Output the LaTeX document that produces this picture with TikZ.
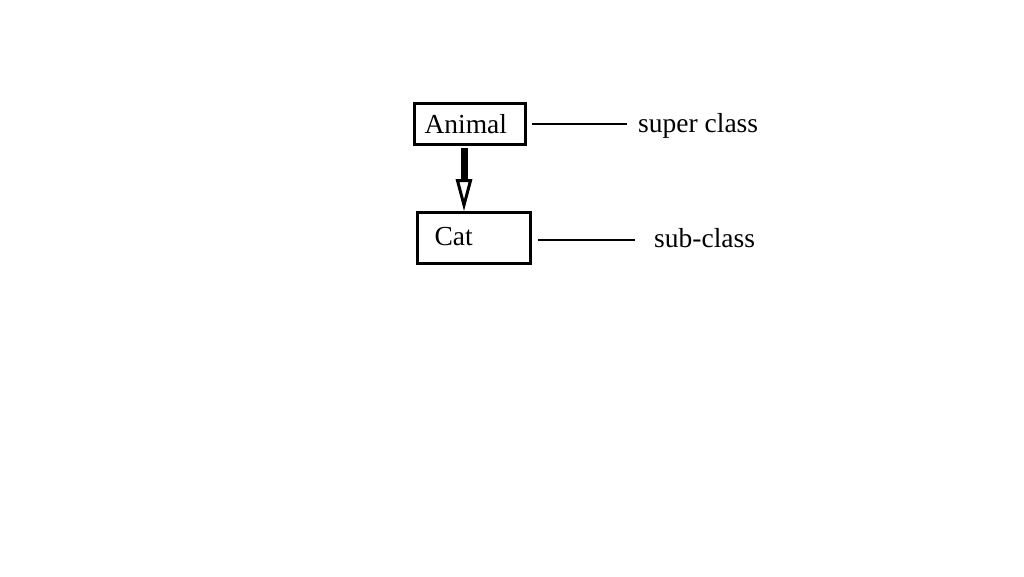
\documentclass[tikz,border=0pt]{standalone}
\usepackage{fontspec}
\setmainfont{Liberation Serif}
\usetikzlibrary{arrows.meta}
\begin{document}
\begin{tikzpicture}[x=1pt,y=1pt,
  classbox/.style={draw=black, line width=3pt, minimum height=41pt, align=left,
    font=\fontsize{27.5}{30}\selectfont, inner ysep=0pt},
  lbl/.style={font=\fontsize{27.5}{30}\selectfont, inner sep=0pt, anchor=west},
  lead/.style={draw=black, line width=2pt},
  inh/.style={draw=black, line width=7pt,
    -{Triangle[open, length=32pt, width=16pt, line width=3pt]}}]
\useasboundingbox[fill=white] (0,0) rectangle (1024,576);
\node[classbox, minimum width=111pt, minimum height=41pt, text width=91pt, inner xsep=10pt] (animal) at (470,452) {Animal};
\node[classbox, minimum width=113pt, minimum height=50.5pt, text width=79pt, inner xsep=17pt] (cat) at (474,338) {\raisebox{4pt}{Cat}};
\node[lbl] (super) at (638,450) {super class};
\node[lbl] (sub) at (654,338) {sub-class};
\coordinate (subline) at (635,336);
\coordinate (superline) at (627,452);
\draw[lead, shorten <=5pt] (animal.east) -- (superline);
\draw[lead] ([xshift=6pt]cat.east |- subline) -- (subline);
\draw[inh] ([xshift=-6pt,yshift=-2pt]animal.south) -- ([xshift=-10pt]cat.north);
\end{tikzpicture}
\end{document}
